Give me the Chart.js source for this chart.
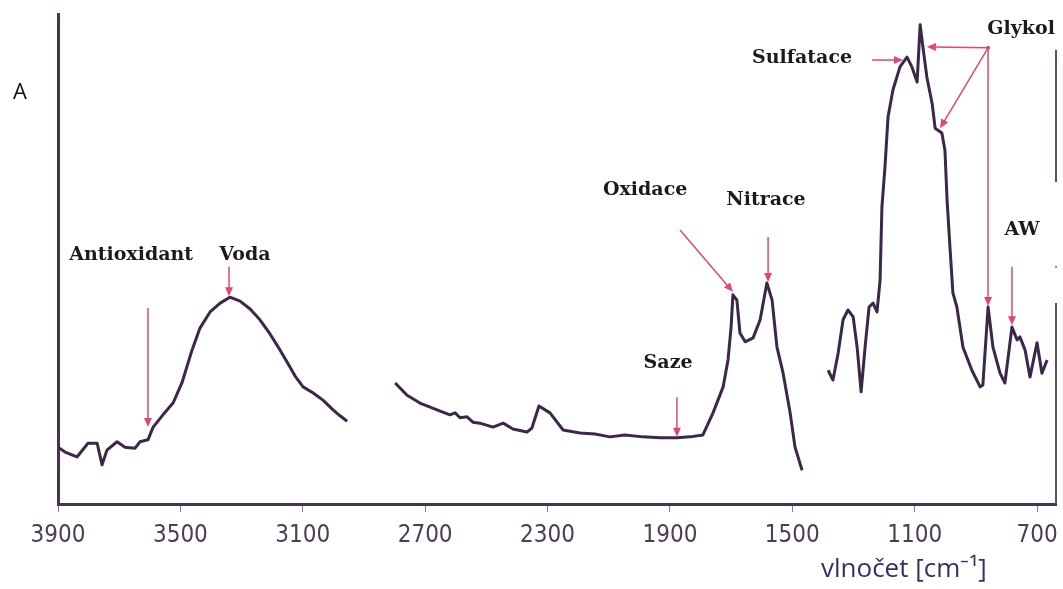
<!DOCTYPE html>
<html>
<head>
<meta charset="utf-8">
<title>IR spektrum</title>
<script src="https://cdn.jsdelivr.net/npm/chart.js@4.4.1/dist/chart.umd.min.js"></script>
<style>
  html, body { margin: 0; padding: 0; background: #fff; }
  #wrap { width: 1063px; height: 589px; position: relative; }
</style>
</head>
<body>
<div id="wrap"><canvas id="spectrum"></canvas></div>
<script>
// spectrum is drawn in three pieces (gaps between them in the original)
const seg1Wavenumber = [3900, 3877, 3838, 3802, 3772, 3756, 3740, 3707, 3681, 3648, 3632, 3606, 3589, 3557, 3524, 3495, 3462, 3436, 3403, 3370, 3338, 3305, 3272, 3240, 3207, 3174, 3148, 3125, 3099, 3067, 3034, 3001, 2978, 2955];
const seg1Absorbance = [0.116, 0.106, 0.096, 0.124, 0.124, 0.080, 0.110, 0.127, 0.116, 0.114, 0.127, 0.131, 0.157, 0.182, 0.206, 0.247, 0.314, 0.359, 0.392, 0.410, 0.422, 0.414, 0.398, 0.376, 0.347, 0.314, 0.286, 0.261, 0.239, 0.227, 0.212, 0.192, 0.180, 0.169];

const seg2Wavenumber = [2798, 2759, 2717, 2661, 2619, 2602, 2586, 2563, 2544, 2521, 2478, 2445, 2413, 2367, 2351, 2328, 2292, 2249, 2194, 2145, 2096, 2047, 1988, 1932, 1877, 1834, 1792, 1759, 1726, 1710, 1700, 1694, 1681, 1671, 1654, 1628, 1605, 1583, 1566, 1550, 1530, 1507, 1491, 1468];
const seg2Absorbance = [0.247, 0.222, 0.206, 0.192, 0.182, 0.186, 0.176, 0.178, 0.167, 0.165, 0.157, 0.165, 0.153, 0.147, 0.155, 0.200, 0.186, 0.151, 0.145, 0.143, 0.137, 0.141, 0.137, 0.135, 0.135, 0.137, 0.141, 0.186, 0.239, 0.294, 0.361, 0.427, 0.416, 0.349, 0.331, 0.339, 0.376, 0.451, 0.416, 0.320, 0.267, 0.186, 0.116, 0.069];

const seg3Wavenumber = [1383, 1367, 1350, 1334, 1318, 1301, 1288, 1275, 1262, 1249, 1236, 1223, 1213, 1207, 1197, 1187, 1171, 1148, 1125, 1109, 1092, 1082, 1073, 1060, 1043, 1033, 1011, 1001, 994, 984, 975, 962, 942, 913, 886, 877, 860, 844, 821, 805, 782, 765, 756, 739, 723, 700, 684, 667];
const seg3Absorbance = [0.273, 0.253, 0.308, 0.376, 0.396, 0.382, 0.320, 0.229, 0.320, 0.402, 0.410, 0.392, 0.457, 0.606, 0.688, 0.790, 0.845, 0.892, 0.912, 0.892, 0.861, 0.978, 0.933, 0.871, 0.818, 0.767, 0.757, 0.722, 0.620, 0.518, 0.431, 0.402, 0.320, 0.273, 0.239, 0.243, 0.402, 0.320, 0.267, 0.247, 0.361, 0.335, 0.341, 0.314, 0.259, 0.329, 0.267, 0.294];

const xTickValues = [3900, 3500, 3100, 2700, 2300, 1900, 1500, 1100, 700];

// band labels: text, where the label sits and arrows (from -> to) in [wavenumber, A]
const notes = [
  { text: 'Antioxidant', at: [3661, 0.508], arrows: [[[3606, 0.400], [3606, 0.157]]] },
  { text: 'Voda', at: [3289, 0.508], arrows: [[[3341, 0.484], [3341, 0.424]]] },
  { text: 'Oxidace', at: [1981, 0.641], arrows: [[[1867, 0.559], [1694, 0.433]]] },
  { text: 'Nitrace', at: [1586, 0.620], arrows: [[[1579, 0.545], [1579, 0.453]]] },
  { text: 'Saze', at: [1906, 0.288], arrows: [[[1877, 0.218], [1877, 0.137]]] },
  { text: 'Sulfatace', at: [1468, 0.910], arrows: [[[1239, 0.906], [1138, 0.906]]] },
  { text: 'Glykol', at: [752, 0.969], arrows: [
      [[860, 0.931], [1060, 0.933]],
      [[860, 0.931], [1017, 0.767]],
      [[860, 0.931], [860, 0.404]]
    ] },
  { text: 'AW', at: [749, 0.559], arrows: [[[782, 0.484], [782, 0.365]]] }
];

const lineColor = '#3d2749';
const arrowColor = '#e2476f';

function toPoints(xs, ys) {
  return xs.map((w, i) => ({ x: w, y: ys[i] }));
}

function drawArrow(ctx, x1, y1, x2, y2) {
  const ang = Math.atan2(y2 - y1, x2 - x1);
  const head = 9, half = 4;
  ctx.beginPath();
  ctx.moveTo(x1, y1);
  ctx.lineTo(x2 - Math.cos(ang) * head * 0.6, y2 - Math.sin(ang) * head * 0.6);
  ctx.stroke();
  ctx.beginPath();
  ctx.moveTo(x2, y2);
  ctx.lineTo(x2 - head * Math.cos(ang) + half * Math.sin(ang), y2 - head * Math.sin(ang) - half * Math.cos(ang));
  ctx.lineTo(x2 - head * Math.cos(ang) - half * Math.sin(ang), y2 - head * Math.sin(ang) + half * Math.cos(ang));
  ctx.closePath();
  ctx.fill();
}

const notesPlugin = {
  id: 'spectrumNotes',
  afterDatasetsDraw(chart) {
    const { ctx, chartArea, scales: { x, y } } = chart;
    ctx.save();

    // broken right frame line like in the scanned original
    ctx.strokeStyle = '#5e4e66';
    ctx.lineWidth = 2;
    ctx.beginPath();
    ctx.moveTo(chartArea.right, y.getPixelForValue(0.927));
    ctx.lineTo(chartArea.right, y.getPixelForValue(0.657));
    ctx.moveTo(chartArea.right, y.getPixelForValue(0.410));
    ctx.lineTo(chartArea.right, chartArea.bottom);
    ctx.stroke();
    ctx.fillStyle = '#8a7a90';
    ctx.fillRect(chartArea.right - 1, y.getPixelForValue(0.484) - 1, 2, 2);

    // arrows
    ctx.strokeStyle = arrowColor;
    ctx.fillStyle = arrowColor;
    ctx.lineWidth = 1.5;
    notes.forEach(n => {
      n.arrows.forEach(a => {
        drawArrow(ctx,
          x.getPixelForValue(a[0][0]), y.getPixelForValue(a[0][1]),
          x.getPixelForValue(a[1][0]), y.getPixelForValue(a[1][1]));
      });
    });
    // small dot where the Glykol arrows start
    const g = notes[6].arrows[0][0];
    ctx.beginPath();
    ctx.arc(x.getPixelForValue(g[0]), y.getPixelForValue(g[1]), 2, 0, Math.PI * 2);
    ctx.fill();

    // labels
    ctx.fillStyle = '#1b1b1b';
    ctx.font = 'bold 19px "DejaVu Serif", serif';
    ctx.textAlign = 'center';
    ctx.textBaseline = 'middle';
    notes.forEach(n => {
      ctx.fillText(n.text, x.getPixelForValue(n.at[0]), y.getPixelForValue(n.at[1]));
    });

    // y axis name
    ctx.fillStyle = '#111';
    ctx.font = '22px "Open Sans", sans-serif';
    ctx.textAlign = 'center';
    ctx.fillText('A', chartArea.left - 38, y.getPixelForValue(0.839));

    // x axis name
    ctx.fillStyle = '#33306a';
    ctx.font = '26px "Open Sans", sans-serif';
    ctx.textAlign = 'left';
    ctx.fillText('vlnočet [cm⁻¹]', x.getPixelForValue(1406), chartArea.bottom + 66);

    ctx.restore();
  }
};

const datasetStyle = {
  borderColor: lineColor,
  borderWidth: 3,
  pointRadius: 0,
  tension: 0,
  borderJoinStyle: 'round',
  fill: false
};

new Chart(document.getElementById('spectrum'), {
  type: 'line',
  data: {
    datasets: [
      Object.assign({ label: 'seg1', data: toPoints(seg1Wavenumber, seg1Absorbance) }, datasetStyle),
      Object.assign({ label: 'seg2', data: toPoints(seg2Wavenumber, seg2Absorbance) }, datasetStyle),
      Object.assign({ label: 'seg3', data: toPoints(seg3Wavenumber, seg3Absorbance) }, datasetStyle)
    ]
  },
  options: {
    responsive: true,
    maintainAspectRatio: false,
    animation: false,
    layout: { padding: { top: 14, right: 7, bottom: 0, left: 0 } },
    plugins: {
      legend: { display: false },
      tooltip: { enabled: false }
    },
    scales: {
      x: {
        type: 'linear',
        min: 638,
        max: 3900,
        reverse: true,
        afterBuildTicks: s => { s.ticks = xTickValues.map(v => ({ value: v })); },
        afterFit: s => { s.height = 85; s.paddingRight = 0; },
        grid: { display: true, drawOnChartArea: false, tickLength: 8, tickColor: '#8a7a90', tickWidth: 1 },
        border: { display: true, color: '#4a3352', width: 3 },
        ticks: {
          color: '#4d3d55',
          font: { family: "'Liberation Sans Narrow', 'DejaVu Sans Condensed', 'Roboto', sans-serif", size: 24 },
          padding: 9,
          autoSkip: false,
          maxRotation: 0,
          callback: v => String(v)
        }
      },
      y: {
        min: 0,
        max: 1,
        afterFit: s => { s.width = 58; },
        grid: { display: false },
        border: { display: true, color: '#4a3352', width: 3 },
        ticks: { display: false }
      }
    }
  },
  plugins: [notesPlugin]
});
</script>
</body>
</html>
